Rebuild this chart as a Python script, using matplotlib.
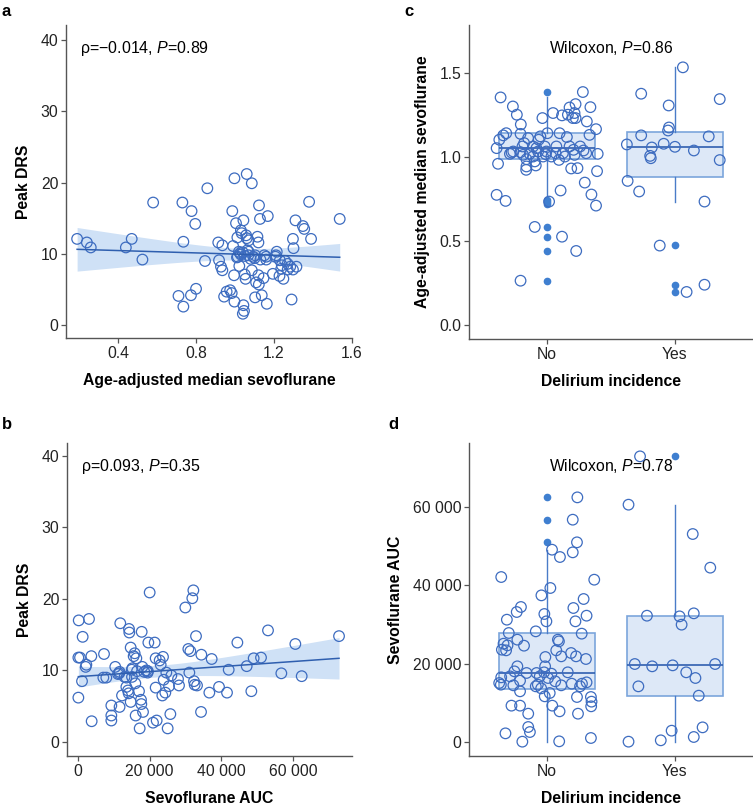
import numpy as np
import matplotlib
matplotlib.use("Agg")
import matplotlib.pyplot as plt
from matplotlib.ticker import FuncFormatter

plt.rcParams['font.family'] = ['Liberation Sans', 'DejaVu Sans']
plt.rcParams['mathtext.fontset'] = 'custom'
plt.rcParams['mathtext.rm'] = 'Liberation Sans'
plt.rcParams['mathtext.it'] = 'Liberation Sans:italic'

# ---- panel a: age-adjusted median sevoflurane vs peak DRS
a_sevo = [0.19, 0.24, 0.26, 0.44, 0.47, 0.525, 0.58, 0.71, 0.735, 0.73, 0.735, 0.774, 0.777,
          0.796, 0.80, 0.846, 0.858, 0.914, 0.935, 0.918, 0.928, 0.935, 0.944, 0.957, 0.975,
          0.983, 0.997, 0.986, 0.997, 1.06, 1.086, 0.99, 0.995, 1.005, 1.012, 1.014, 1.02,
          1.022, 1.026, 1.03, 1.034, 1.043, 1.043, 1.04, 1.046, 1.05, 1.054, 1.057, 1.06,
          1.063, 1.068, 1.07, 1.08, 1.086, 1.094, 1.103, 1.108, 1.103, 1.115, 1.12, 1.12,
          1.122, 1.123, 1.128, 1.137, 1.146, 1.15, 1.163, 1.168, 1.16, 1.194, 1.207, 1.214,
          1.228, 1.23, 1.237, 1.248, 1.257, 1.27, 1.283, 1.297, 1.315, 1.297, 1.30, 1.29,
          1.31, 1.348, 1.355, 1.38, 1.39, 1.537, 1.03, 1.04, 1.05, 1.01, 1.07, 1.10, 1.13,
          1.16, 1.24, 1.27, 1.21]
a_drs = [12.1, 11.6, 10.9, 10.9, 12.1, 9.2, 17.2, 4.1, 2.6, 17.2, 11.7, 4.2, 16.0,
         14.2, 5.1, 9.0, 19.2, 11.6, 11.2, 9.1, 8.2, 7.7, 4.0, 4.7, 4.9,
         4.5, 3.3, 16.0, 20.6, 21.2, 19.9, 11.1, 7.0, 14.3, 12.3, 9.6, 10.3,
         8.3, 10.1, 13.3, 12.9, 14.7, 2.8, 1.6, 2.0, 7.1, 6.5, 12.6, 12.2,
         10.5, 9.8, 11.9, 9.3, 7.7, 9.6, 9.8, 6.0, 3.9, 12.4, 11.6, 7.0,
         5.7, 16.8, 14.9, 4.2, 6.6, 9.8, 3.0, 15.3, 9.6, 7.2, 9.6, 10.3,
         6.9, 9.1, 7.9, 6.5, 9.0, 8.6, 8.2, 7.8, 8.2, 12.1, 10.8, 3.6,
         14.7, 13.9, 13.5, 17.3, 12.1, 14.9, 9.9, 10.2, 9.7, 9.5, 10.3, 9.4, 9.2,
         9.2, 8.4, 7.8, 9.8]

# ---- panel b: sevoflurane AUC vs peak DRS
b_auc = [200, 3070, 1300, 100, 560, 2330, 2140, 1120, 100, 3720, 3810, 7260, 7070, 7900,
         9300, 9300, 9300, 10400, 11160, 11600, 11800, 11600, 12280, 13000, 13490, 13950,
         14140, 14230, 14320, 14700, 14700, 15070, 15160, 15530, 15810, 16090, 16280, 16470,
         17020, 17210, 17580, 17670, 17770, 17950, 18140, 19070, 19440, 19630, 20000, 20930,
         21400, 21670, 21670, 21950, 22790, 23070, 23530, 23720, 23910, 24370, 24650, 25020,
         25400, 25770, 26050, 27910, 28190, 29950, 30790, 31070, 31350, 31900, 32190, 32370,
         32560, 32930, 33210, 34330, 34420, 36650, 37300, 39350, 41580, 42050, 44470, 47070,
         48370, 49020, 51070, 53020, 56740, 60650, 62420, 72840, 13500, 16000, 18500, 19500,
         15000, 11500]
b_drs = [17.0, 17.2, 14.7, 11.8, 11.8, 10.8, 10.5, 8.5, 6.2, 12.0, 2.9, 12.3, 9.0, 9.0,
         3.7, 3.0, 5.1, 10.5, 9.5, 9.8, 16.6, 4.9, 6.5, 9.1, 7.7, 7.2,
         6.8, 15.8, 15.3, 13.2, 5.6, 9.1, 10.3, 12.0, 12.4, 3.7, 11.7, 9.9,
         7.1, 1.9, 5.9, 5.3, 15.4, 10.5, 4.2, 10.0, 9.7, 13.9, 20.9, 2.7,
         13.9, 11.7, 7.6, 3.0, 11.4, 10.8, 6.5, 11.9, 8.7, 6.9, 9.7, 1.9,
         7.8, 3.9, 9.3, 8.8, 7.9, 18.8, 13.0, 9.7, 12.7, 20.1, 21.2, 8.5,
         8.0, 14.8, 7.9, 4.2, 12.2, 6.9, 11.6, 7.7, 6.9, 10.1, 13.9, 10.6,
         7.1, 11.7, 11.8, 15.6, 9.6, 13.7, 9.2, 14.8, 9.0, 8.2, 9.8, 9.9,
         10.1, 9.6]

# ---- panel c: age-adjusted median sevoflurane by delirium
c_no = [1.355, 1.301, 1.252, 1.194, 1.138, 1.142, 1.129, 1.103, 1.053, 0.960, 0.775, 0.739,
        1.019, 1.027, 1.033, 1.029, 1.063, 1.083, 1.113, 0.987, 0.924, 0.944, 0.950, 0.974,
        1.063, 1.053, 1.103, 1.123, 1.232, 1.063, 1.033, 1.017, 1.142, 0.735, 0.584, 0.264,
        1.262, 1.063, 0.983, 0.801, 1.248, 0.526, 1.023, 1.003, 1.119, 1.252, 1.295, 0.932,
        1.232, 1.043, 1.315, 1.232, 0.441, 0.934, 1.063, 1.387, 1.039, 0.848, 1.023, 1.212,
        1.132, 1.297, 0.777, 1.166, 0.711, 0.916, 1.019, 1.013, 1.063, 1.023, 1.003, 1.019,
        1.003, 1.033, 1.013, 1.142, 1.262, 1.003]
c_no_jit = [-0.363, -0.267, -0.236, -0.205, -0.207, -0.319, -0.342, -0.373, -0.394, -0.383,
            -0.394, -0.324, -0.29, -0.277, -0.264, -0.207, -0.192, -0.179, -0.148, -0.161,
            -0.163, -0.161, -0.088, -0.096, -0.109, -0.083, -0.065, -0.052, -0.036, -0.018,
            -0.005, -0.010, 0.003, 0.016, -0.096, -0.207, 0.047, 0.073, 0.093, 0.106, 0.117,
            0.117, 0.124, 0.140, 0.155, 0.163, 0.176, 0.189, 0.202, 0.207, 0.223, 0.223,
            0.228, 0.238, 0.259, 0.280, 0.285, 0.295, 0.306, 0.311, 0.332, 0.339, 0.347,
            0.383, 0.383, 0.391, 0.396, 0.215, 0.176, 0.067, 0.034, -0.135, -0.109, -0.07,
            -0.187, 0.098, 0.215, -0.031]
c_yes = [1.534, 1.377, 1.345, 1.307, 1.176, 1.158, 1.129, 1.075, 1.079, 1.061, 1.057, 1.123,
         1.039, 1.007, 0.993, 0.982, 0.858, 0.795, 0.735, 0.473, 0.240, 0.197]
c_yes_jit = [0.062, -0.264, 0.350, -0.049, -0.047, -0.054, -0.264, -0.376, -0.088, 0.0,
             -0.181, 0.264, 0.148, -0.194, -0.189, 0.350, -0.370, -0.280, 0.231, -0.119,
             0.231, 0.091]
# box stats: q1, median, q3, whisker low, whisker high, outliers
c_box_q1 = [0.987, 0.884]
c_box_med = [1.053, 1.061]
c_box_q3 = [1.142, 1.148]
c_box_lo = [0.775, 0.735]
c_box_hi = [1.355, 1.534]
c_box_out = [[1.387, 0.743, 0.731, 0.721, 0.584, 0.525, 0.441, 0.264], [0.475, 0.240, 0.197]]

# ---- panel d: sevoflurane AUC by delirium
d_no = [42120, 31230, 33190, 34470, 27830, 26130, 24590, 25100, 24680, 23570, 23400, 19320,
        18040, 16760, 16510, 15060, 14640, 15660, 14470, 12940, 17620, 9280, 9280, 7230,
        3830, 2550, 2210, 85, 28250, 37440, 32680, 30810, 39320, 49100, 47230, 21700,
        19320, 17620, 16760, 14640, 14210, 13700, 11660, 12510, 9280, 7830, 170, 17450,
        15490, 25700, 26130, 23400, 21870, 14470, 17790, 22720, 14890, 48420, 56760, 34210,
        30810, 21870, 50980, 62460, 11490, 7230, 14210, 27660, 36510, 21190, 32250, 15230,
        14890, 11490, 10300, 9110, 41440, 1020, 17790, 16340]
d_no_jit = [-0.358, -0.314, -0.237, -0.204, -0.299, -0.232, -0.180, -0.340, -0.309, -0.353,
            -0.320, -0.232, -0.255, -0.289, -0.358, -0.374, -0.361, -0.211, -0.263, -0.211,
            -0.160, -0.278, -0.211, -0.147, -0.147, -0.134, -0.325, -0.193, -0.088, -0.044,
            -0.021, -0.005, 0.026, 0.039, 0.101, -0.013, -0.015, -0.082, -0.057, -0.072,
            -0.088, -0.046, -0.018, 0.021, 0.041, 0.098, 0.095, 0.034, 0.064, 0.093, 0.085,
            0.072, 0.111, 0.111, 0.162, 0.188, 0.193, 0.201, 0.201, 0.206, 0.222, 0.227,
            0.234, 0.237, 0.234, 0.242, 0.258, 0.271, 0.286, 0.304, 0.309, 0.309, 0.273,
            0.343, 0.348, 0.345, 0.369, 0.343, -0.023, 0.008]
d_yes = [72930, 60590, 53100, 44510, 32250, 32080, 32850, 29960, 19910, 19320, 19570, 19910,
         17790, 16340, 14210, 11830, 2890, 3740, 1280, 430, 85]
d_yes_jit = [-0.273, -0.363, 0.139, 0.276, -0.219, 0.036, 0.147, 0.052, -0.314, -0.178,
             -0.018, 0.314, 0.088, 0.160, -0.286, 0.186, -0.026, 0.216, 0.147, -0.111, -0.363]
d_box_q1 = [13530, 11830]
d_box_med = [17620, 19570]
d_box_q3 = [27830, 32250]
d_box_lo = [0, 0]
d_box_hi = [49100, 60590]
d_box_out = [[62550, 56760, 50980], [72930]]

groups = ['No', 'Yes']

BLUE = '#3d6cc0'
LINE = '#2f5faf'
BAND = '#cfe1f6'
BOXFACE = '#dde8f7'
BOXEDGE = '#7ba5dc'
FLIER = '#3f7fd0'
SPINE = '#555555'
LABSIZE = 11.3


def style_ax(ax):
    for s in ['top', 'right']:
        ax.spines[s].set_visible(False)
    for s in ['left', 'bottom']:
        ax.spines[s].set_color(SPINE)
        ax.spines[s].set_linewidth(1.0)
    ax.tick_params(direction='out', length=3.5, width=0.9, color=SPINE,
                   labelsize=11.3, labelcolor='#222222', pad=2)


def thousands(v, pos):
    return '{:,.0f}'.format(v).replace(',', ' ')


def scatter_fit(ax, x, y):
    x = np.asarray(x, float)
    y = np.asarray(y, float)
    k, b = np.polyfit(x, y, 1)
    xs = np.linspace(x.min(), x.max(), 100)
    fit = k * xs + b
    res = y - (k * x + b)
    n = len(x)
    s = np.sqrt(np.sum(res ** 2) / (n - 2))
    se = s * np.sqrt(1.0 / n + (xs - x.mean()) ** 2 / np.sum((x - x.mean()) ** 2))
    ax.fill_between(xs, fit - 1.98 * se, fit + 1.98 * se, color=BAND, lw=0, zorder=1)
    ax.scatter(x, y, s=58, facecolors='none', edgecolors=BLUE, linewidths=0.9, zorder=2)
    ax.plot(xs, fit, color=LINE, lw=1.1, zorder=3)


def box_jitter(ax, q1, med, q3, lo, hi, out, vals, jits):
    stats = []
    for i in range(2):
        stats.append(dict(q1=q1[i], med=med[i], q3=q3[i], whislo=lo[i], whishi=hi[i],
                          fliers=out[i]))
    ax.bxp(stats, positions=[0, 1], widths=0.75, patch_artist=True, showcaps=False,
           boxprops=dict(facecolor=BOXFACE, edgecolor=BOXEDGE, linewidth=1.2),
           medianprops=dict(color=LINE, linewidth=1.2),
           whiskerprops=dict(color='#4a7cc8', linewidth=1.0),
           flierprops=dict(marker='o', markerfacecolor=FLIER, markeredgecolor=FLIER,
                           markersize=4.5))
    for i in range(2):
        ax.scatter(np.array(jits[i]) + i, vals[i], s=58, facecolors='none',
                   edgecolors=BLUE, linewidths=0.9, zorder=4)
    ax.set_xticks([0, 1])
    ax.set_xticklabels(groups)
    ax.set_xlim(-0.61, 1.61)


fig = plt.figure(figsize=(7.53, 8.09), dpi=100)
W, H = 753.0, 809.0


def add_ax(l, t, r, b):
    return fig.add_axes([l / W, 1 - b / H, (r - l) / W, (b - t) / H])


# a
ax = add_ax(66, 25, 352, 338)
style_ax(ax)
scatter_fit(ax, a_sevo, a_drs)
ax.set_xlim(0.133, 1.6)
ax.set_ylim(-1.8, 42.1)
ax.set_xticks([0.4, 0.8, 1.2, 1.6])
ax.set_yticks([0, 10, 20, 30, 40])
ax.set_xlabel('Age-adjusted median sevoflurane', fontsize=LABSIZE, fontweight='bold', labelpad=9)
ax.set_ylabel('Peak DRS', fontsize=LABSIZE, fontweight='bold', labelpad=7)
ax.text(0.05, 0.955, 'ρ=−0.014, $\\it{P}$=0.89', transform=ax.transAxes, fontsize=11.5,
        va='top', ha='left')

# b
ax = add_ax(67, 443, 352, 756)
style_ax(ax)
scatter_fit(ax, b_auc, b_drs)
ax.set_xlim(-3070, 76460)
ax.set_ylim(-1.96, 41.8)
ax.set_xticks([0, 20000, 40000, 60000])
ax.set_yticks([0, 10, 20, 30, 40])
ax.xaxis.set_major_formatter(FuncFormatter(thousands))
ax.set_xlabel('Sevoflurane AUC', fontsize=LABSIZE, fontweight='bold', labelpad=9)
ax.set_ylabel('Peak DRS', fontsize=LABSIZE, fontweight='bold', labelpad=7)
ax.text(0.05, 0.955, 'ρ=0.093, $\\it{P}$=0.35', transform=ax.transAxes, fontsize=11.5,
        va='top', ha='left')

# c
ax = add_ax(469, 25, 753, 339)
style_ax(ax)
box_jitter(ax, c_box_q1, c_box_med, c_box_q3, c_box_lo, c_box_hi, c_box_out,
           [c_no, c_yes], [c_no_jit, c_yes_jit])
ax.set_ylim(-0.083, 1.786)
ax.set_yticks([0.0, 0.5, 1.0, 1.5])
ax.set_xlabel('Delirium incidence', fontsize=LABSIZE, fontweight='bold', labelpad=9)
ax.set_ylabel('Age-adjusted median sevoflurane', fontsize=LABSIZE, fontweight='bold', labelpad=7)
ax.text(0.5, 0.955, 'Wilcoxon, $\\it{P}$=0.86', transform=ax.get_xaxis_transform(),
        fontsize=11.3, va='top', ha='center')

# d
ax = add_ax(469, 443, 753, 756)
style_ax(ax)
box_jitter(ax, d_box_q1, d_box_med, d_box_q3, d_box_lo, d_box_hi, d_box_out,
           [d_no, d_yes], [d_no_jit, d_yes_jit])
ax.set_ylim(-3574, 76340)
ax.set_yticks([0, 20000, 40000, 60000])
ax.yaxis.set_major_formatter(FuncFormatter(thousands))
ax.set_xlabel('Delirium incidence', fontsize=LABSIZE, fontweight='bold', labelpad=9)
ax.set_ylabel('Sevoflurane AUC', fontsize=LABSIZE, fontweight='bold', labelpad=7)
ax.text(0.5, 0.955, 'Wilcoxon, $\\it{P}$=0.78', transform=ax.get_xaxis_transform(),
        fontsize=11.3, va='top', ha='center')

# panel letters
for lab, px, py in [('a', 2, 4), ('c', 404, 4), ('b', 2, 417), ('d', 388, 417)]:
    fig.text(px / W, 1 - py / H, lab, fontsize=12, fontweight='bold', va='top', ha='left')

fig.savefig('out.png', dpi=100)
